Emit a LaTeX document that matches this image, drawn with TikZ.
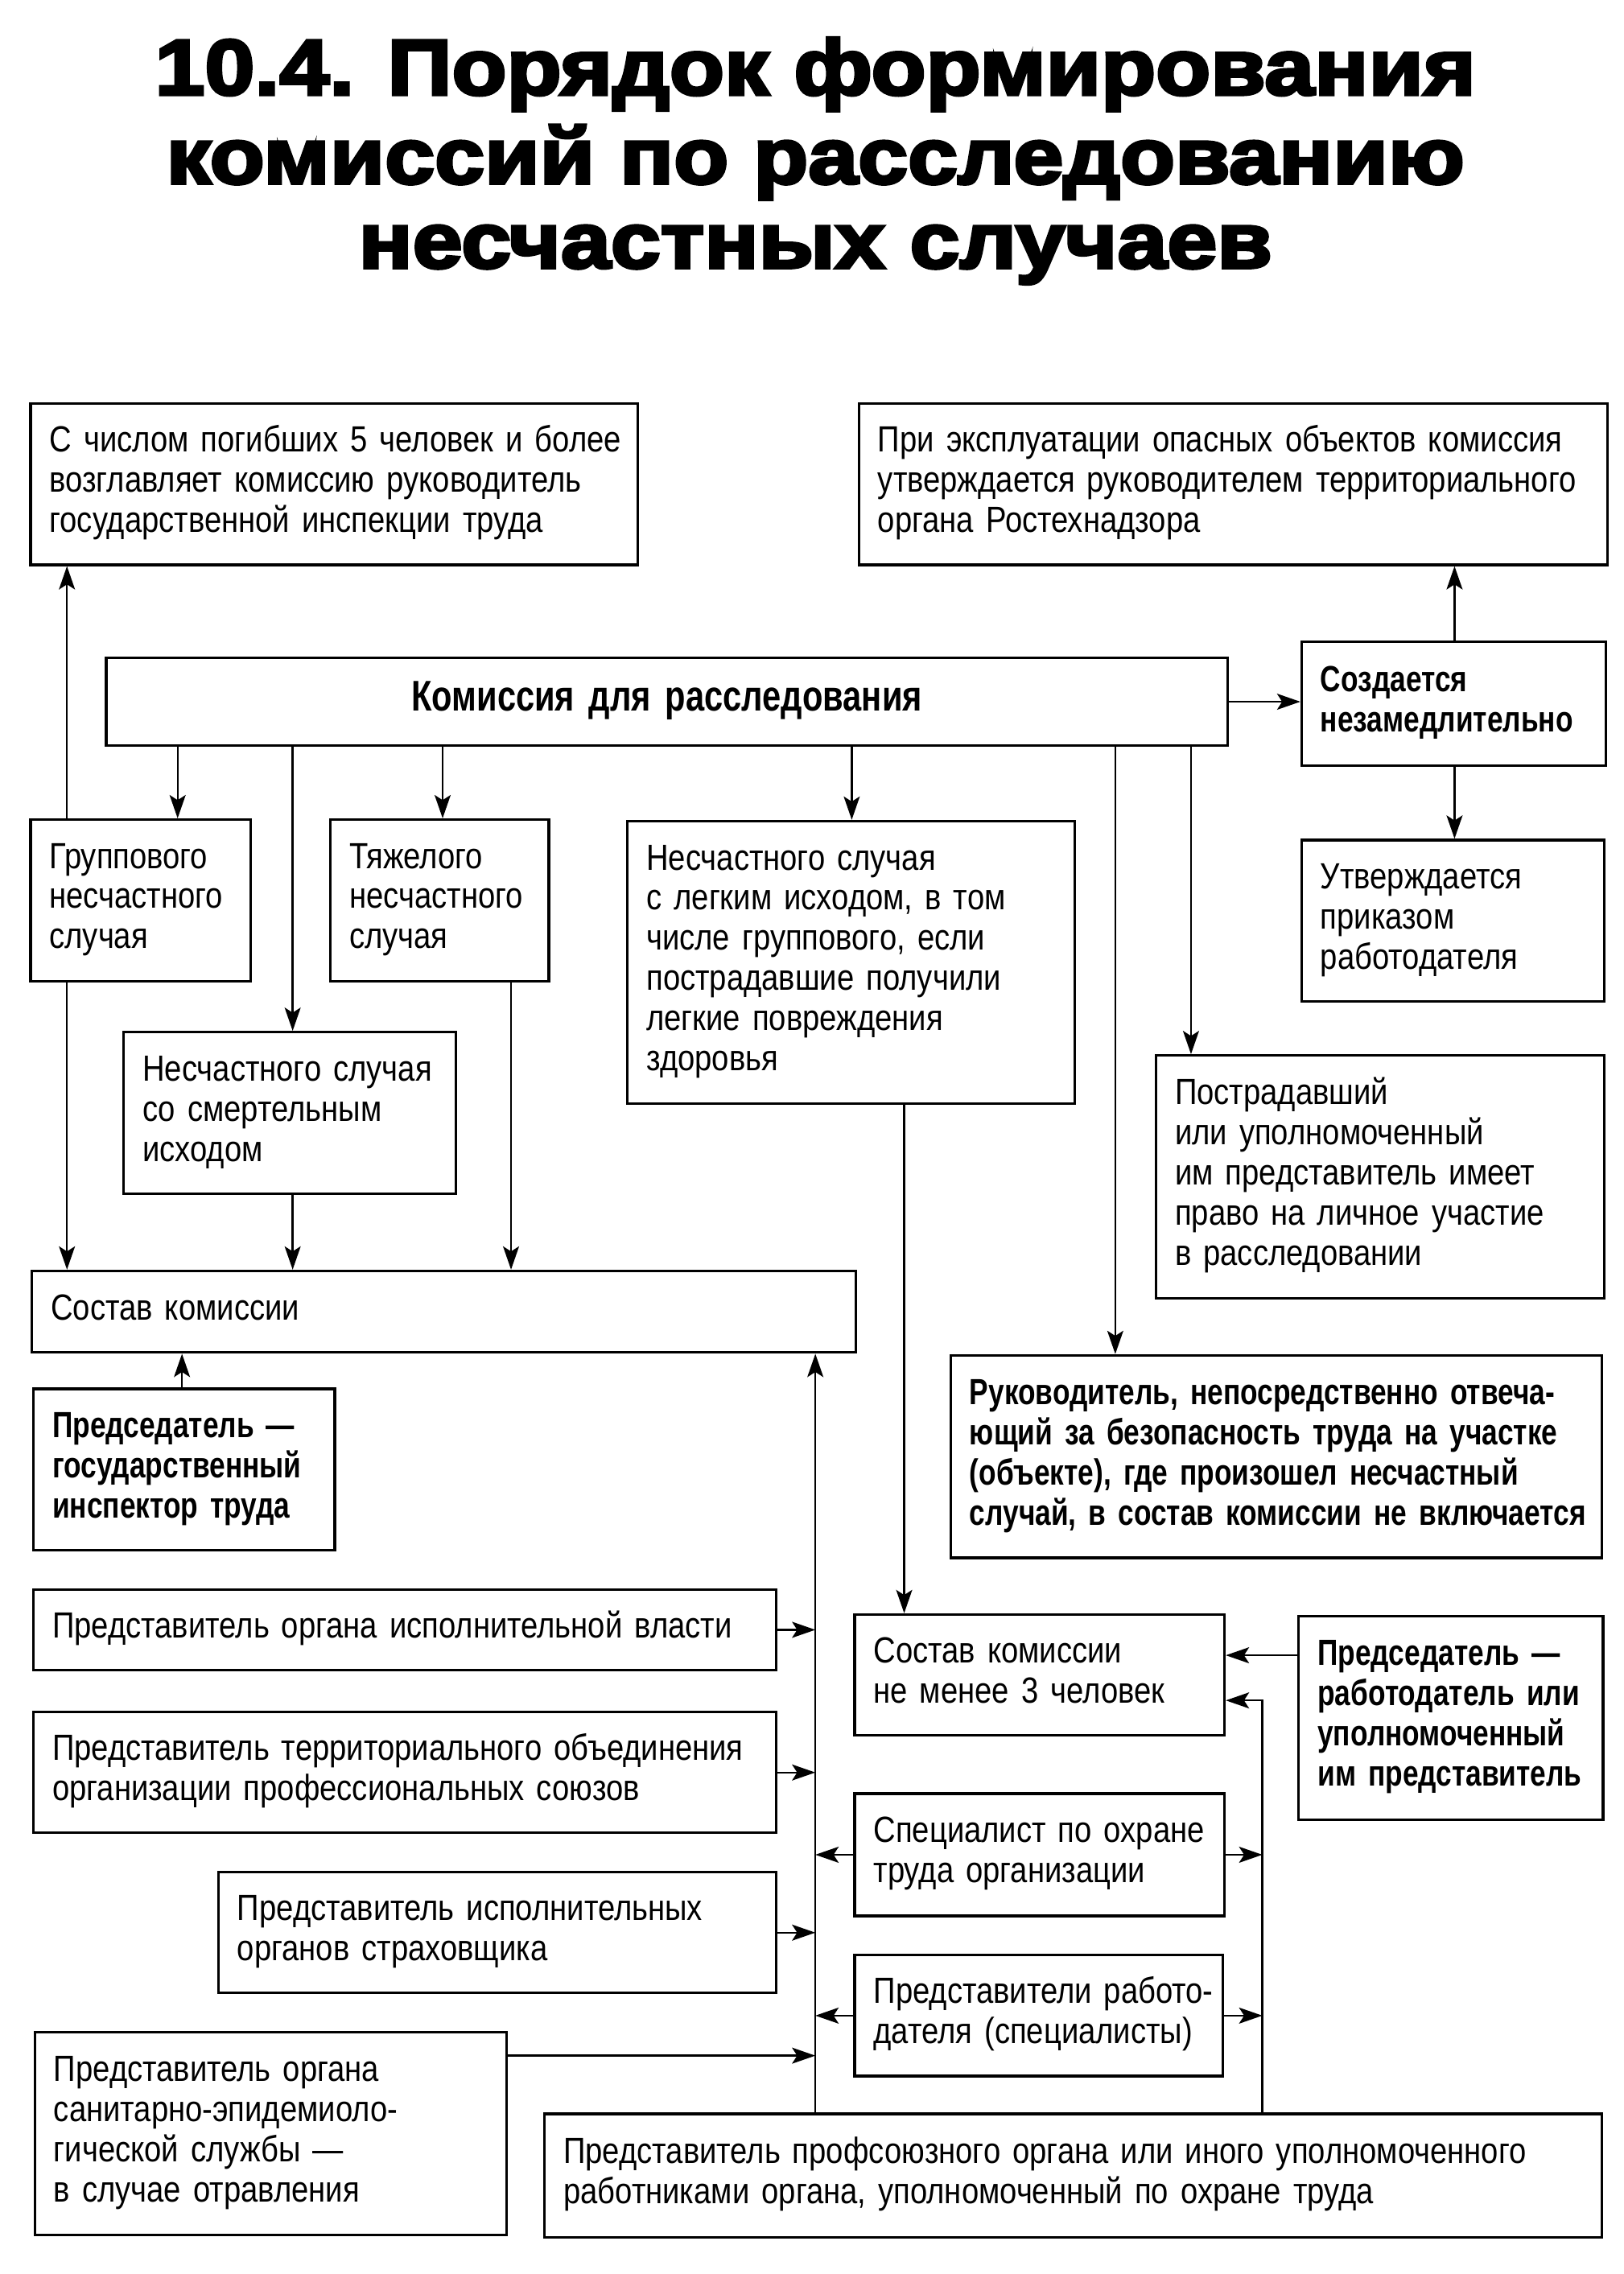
\documentclass[tikz,border=0pt]{standalone}
\usepackage{fontspec}
\setmainfont{Liberation Sans}[FakeStretch=0.845]
\newfontfamily\bfnarrow{Liberation Sans}[FakeStretch=0.78]
\newfontfamily\titlefont{Liberation Sans}[FakeStretch=1.14,FakeBold=4]
\usetikzlibrary{arrows.meta}
\newcommand\bx[7][]{%
  \pgfmathsetmacro\bxw{#5-#3}\pgfmathsetmacro\bxh{#6-#4}\pgfmathsetmacro\bxt{#5-#3-26}%
  \node[box,#1,minimum width=\bxw pt,minimum height=\bxh pt,text width=\bxt pt] (#2) at ({(#3+#5)/2},{(#4+#6)/2}) {\begin{tabular}{@{}l@{}}#7\end{tabular}};}
\begin{document}
\begin{tikzpicture}[x=1pt,y=-1pt,
  box/.style={draw,line width=1.8pt,inner xsep=13pt,inner ysep=0pt,align=left,
    font=\fontsize{25}{27.6}\selectfont},
  bbox/.style={font=\fontsize{25}{27.6}\bfnarrow\bfseries},
  arr/.style={line width=1.3pt,-{Stealth[length=16pt,width=11pt,inset=3.5pt]}},
  ln/.style={line width=1.3pt},
  ttl/.style={font=\fontsize{54}{60}\titlefont\bfseries,anchor=base,inner sep=0pt}]
\useasboundingbox (0,0) rectangle (1115,1562);
% title
\node[ttl] (t1) at (560,65) {10.4. Порядок формирования};
\node[ttl] (t2) at (560,126) {комиссий по расследованию};
\node[ttl] (t3) at (560,184) {несчастных случаев};
% boxes
\bx{A}{21}{277}{438}{388}{С числом погибших 5 человек и более\\возглавляет комиссию руководитель\\государственной инспекции труда}
\bx{B}{590}{277}{1104}{388}{При эксплуатации опасных объектов комиссия\\утверждается руководителем территориального\\органа Ростехнадзора}
\bx[bbox,align=center,font=\fontsize{29.5}{32}\bfnarrow\bfseries]{K}{73}{452}{843}{512}{Комиссия для расследования}
\bx[bbox]{S}{894}{441}{1103}{526}{Создается\\незамедлительно}
\bx{U}{894}{577}{1102}{688}{Утверждается\\приказом\\работодателя}
\bx{G}{21}{563}{172}{674}{Группового\\несчастного\\случая}
\bx{T}{227}{563}{377}{674}{Тяжелого\\несчастного\\случая}
\bx{L}{431}{564}{738}{758}{Несчастного случая\\с легким исходом, в том\\числе группового, если\\пострадавшие получили\\легкие повреждения\\здоровья}
\bx{F}{85}{709}{313}{820}{Несчастного случая\\со смертельным\\исходом}
\bx{P}{794}{725}{1102}{892}{Пострадавший\\или уполномоченный\\им представитель имеет\\право на личное участие\\в расследовании}
\bx{SK}{22}{873}{588}{929}{Состав комиссии}
\bx[bbox]{PG}{23}{954}{230}{1065}{Председатель —\\государственный\\инспектор труда}
\bx[bbox]{R}{653}{931}{1100}{1070}{Руководитель, непосредственно отвеча-\\ющий за безопасность труда на участке\\(объекте), где произошел несчастный\\случай, в состав комиссии не включается}
\bx{E1}{23}{1092}{533}{1147}{Представитель органа исполнительной власти}
\bx{TR}{23}{1176}{533}{1259}{Представитель территориального объединения\\организации профессиональных союзов}
\bx{ST}{150}{1286}{533}{1369}{Представитель исполнительных\\органов страховщика}
\bx{SE}{24}{1396}{348}{1535}{Представитель органа\\санитарно-эпидемиоло-\\гической службы —\\в случае отравления}
\bx{SK3}{587}{1109}{841}{1192}{Состав комиссии\\не менее 3 человек}
\bx[bbox]{PR}{892}{1110}{1101}{1250}{Председатель —\\работодатель или\\уполномоченный\\им представитель}
\bx{SP}{587}{1232}{841}{1316}{Специалист по охране\\труда организации}
\bx{RB}{587}{1343}{840}{1426}{Представители работо-\\дателя (специалисты)}
\bx{PF}{374}{1452}{1100}{1537}{Представитель профсоюзного органа или иного уполномоченного\\работниками органа, уполномоченный по охране труда}
% guide coordinates
\coordinate (x46) at (46,0);
\coordinate (x122) at (122,0);
\coordinate (x201) at (201,0);
\coordinate (x304) at (304,0);
\coordinate (x351) at (351,0);
\coordinate (x585) at (585,0);
\coordinate (x621) at (621,0);
\coordinate (x766) at (766,0);
\coordinate (x818) at (818,0);
\coordinate (x999) at (999,0);
\coordinate (x125) at (125,0);
\coordinate (busL) at (560,0);
\coordinate (rtop) at (867,1168);
\coordinate (seY) at (0,1412);
\coordinate (prY) at (0,1137);
% connectors
\draw[arr] (G.north -| x46) -- (A.south -| x46);
\draw[arr] (G.south -| x46) -- (SK.north -| x46);
\draw[arr] (K.south -| x122) -- (G.north -| x122);
\draw[arr] (K.south -| x201) -- (F.north -| x201);
\draw[arr] (K.south -| x304) -- (T.north -| x304);
\draw[arr] (K.south -| x585) -- (L.north -| x585);
\draw[arr] (K.south -| x766) -- (R.north -| x766);
\draw[arr] (K.south -| x818) -- (P.north -| x818);
\draw[arr] (K.east) -- (K.east -| S.west);
\draw[arr] (S.north -| x999) -- (B.south -| x999);
\draw[arr] (S.south -| x999) -- (U.north -| x999);
\draw[arr] (F.south -| x201) -- (SK.north -| x201);
\draw[arr] (T.south -| x351) -- (SK.north -| x351);
\draw[arr] (L.south -| x621) -- (SK3.north -| x621);
\draw[arr] (PG.north -| x125) -- (SK.south -| x125);
\draw[arr] (PF.north -| busL) -- (SK.south -| busL);
\draw[arr] (E1.east) -- (E1.east -| busL);
\draw[arr] (TR.east) -- (TR.east -| busL);
\draw[arr] (ST.east) -- (ST.east -| busL);
\draw[arr] (SE.east |- seY) -- (busL |- seY);
\draw[arr] (SP.west) -- (SP.west -| busL);
\draw[arr] (RB.west) -- (RB.west -| busL);
\draw[arr] (PF.north -| rtop) -- (rtop) -- (rtop -| SK3.east);
\draw[arr] (SP.east) -- (SP.east -| rtop);
\draw[arr] (RB.east) -- (RB.east -| rtop);
\draw[arr] (PR.west |- prY) -- (SK3.east |- prY);
\end{tikzpicture}
\end{document}
